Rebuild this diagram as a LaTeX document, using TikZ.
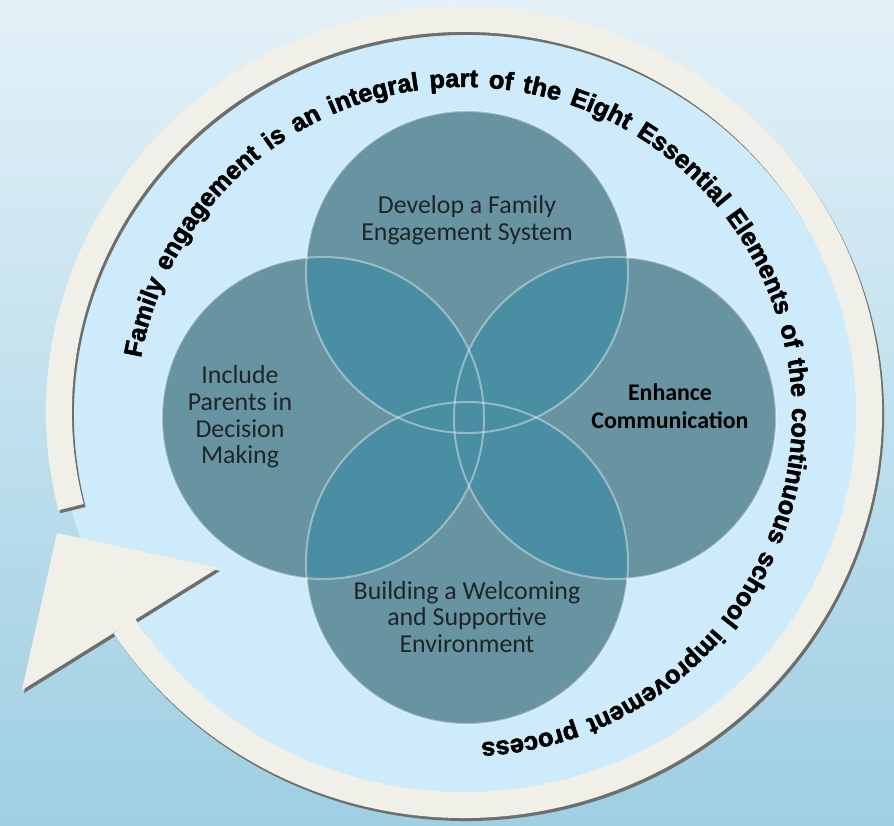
\documentclass[tikz,border=0pt]{standalone}
\usepackage{fontspec}
\setmainfont{Carlito}
\newfontfamily\ringfont[FakeBold=2.2]{Liberation Sans Bold}
\usetikzlibrary{calc, decorations.text}

\definecolor{skytop}{HTML}{E3F1F8}
\definecolor{skybottom}{HTML}{9ECFE3}
\definecolor{disc}{HTML}{CDEBFA}
\definecolor{band}{HTML}{F1F0E8}
\definecolor{bandshadow}{HTML}{6E6E6C}
\definecolor{petal}{HTML}{6794A0}
\definecolor{lens}{HTML}{4A8EA3}
\definecolor{ink}{HTML}{1E252A}

\tikzset{
	petal/.style={circle, fill=petal, inner sep=0pt, minimum size=8.05cm},
	rim/.style={draw=white, draw opacity=0.4, line width=1.4pt},
	petal text/.style={align=center, text=ink, font=\fontsize{18.4}{19}\selectfont},
}

\begin{document}
\begin{tikzpicture}[x=0.025cm, y=0.025cm]
			\def\r{161};
			\useasboundingbox (-464,-410) rectangle (430,415);

			% sky and the pale disc inside the arrow
			\shade[top color=skytop, bottom color=skybottom] (-464,-410) rectangle (430,415);
			\fill[disc] (0,3) ellipse [x radius = 405, y radius = 393];

			% circular arrow, shadow first
			\foreach \dx/\dy/\col in {2/-3/bandshadow, 0/0/band} {
				\begin{scope}[shift={(\dx,\dy)}]
					\draw[\col, line width=0.65cm] (0,3) ++(194:405 and 393)
						arc [start angle = 194, end angle = -147, x radius = 405, y radius = 393];
					\fill[\col] (-407,-118) -- (-246,-153) -- (-442,-275) -- cycle;
				\end{scope}
			}

			\path[decorate, decoration={text along path, text align={fit to path stretching spaces},
				text={|\ringfont\fontsize{18}{20}\selectfont|Family engagement is an integral part of the Eight Essential Elements of the continuous school improvement process}}]
				(170:328) arc [start angle = 170, end angle = -87, radius = 328];

			% the four circles
			\node[petal] (develop) at (3,143) {};
			\node[petal] (include) at (-141,-3) {};
			\node[petal] (enhance) at (151,-3) {};
			\node[petal] (build) at (3,-148) {};

			\foreach \a/\b in {develop/include, develop/enhance, develop/build, include/enhance, include/build, enhance/build} {
				\begin{scope}
					\clip (\a.center) circle [radius = \r];
					\fill[lens] (\b.center) circle [radius = \r];
				\end{scope}
			}
			\foreach \n in {develop, include, enhance, build}
				\draw[rim] (\n.center) circle [radius = \r];

			\node[petal text] (developlabel) at ($(develop)+(0,52)$) {Develop a Family\\Engagement System};
			\node[petal text] (includelabel) at ($(include)+(-83,1)$) {Include\\Parents in\\Decision\\Making};
			\node[petal text, text=black, font=\bfseries\fontsize{17}{20}\selectfont] (enhancelabel) at ($(enhance)+(55,12)$) {Enhance\\Communication};
			\node[petal text] (buildlabel) at ($(build)+(0,-54)$) {Building a Welcoming\\and Supportive\\Environment};
		\end{tikzpicture}
\end{document}
